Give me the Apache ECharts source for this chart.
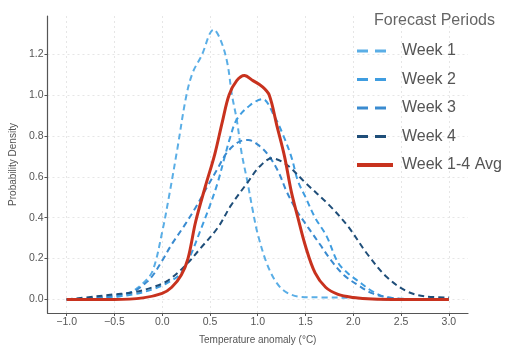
<!DOCTYPE html>
<html>
<head>
<meta charset="utf-8">
<script src="https://cdn.jsdelivr.net/npm/echarts@6/dist/echarts.min.js"></script>
<style>
  html, body { margin: 0; padding: 0; background: #fff; }
  #chart { width: 515px; height: 350px; }
</style>
</head>
<body>
<div id="chart"></div>
<script>
// Density curves for each forecast period: [temperature anomaly, density]
const week1 = [[-1.0,0],[-0.7,0.003],[-0.5,0.01],[-0.35,0.03],[-0.2,0.08],[-0.1,0.14],[0.0,0.33],[0.07,0.5],[0.16,0.74],[0.25,0.99],[0.32,1.11],[0.41,1.19],[0.54,1.32],[0.61,1.27],[0.68,1.16],[0.73,1.0],[0.78,0.88],[0.83,0.72],[0.89,0.58],[0.95,0.43],[1.0,0.32],[1.1,0.17],[1.2,0.08],[1.3,0.035],[1.45,0.013],[1.7,0.01],[2.0,0.008],[2.2,0.002],[2.5,0],[3.0,0]];
const week2 = [[-1.0,0],[-0.7,0.005],[-0.5,0.015],[-0.3,0.025],[-0.1,0.05],[0.05,0.08],[0.2,0.13],[0.3,0.22],[0.41,0.35],[0.5,0.46],[0.58,0.57],[0.65,0.69],[0.71,0.79],[0.78,0.88],[0.92,0.95],[1.05,0.98],[1.17,0.9],[1.26,0.81],[1.35,0.7],[1.42,0.58],[1.5,0.5],[1.6,0.4],[1.72,0.31],[1.84,0.18],[1.94,0.13],[2.05,0.09],[2.2,0.04],[2.35,0.01],[2.6,0.002],[3.0,0]];
const week3 = [[-1.0,0],[-0.7,0.008],[-0.5,0.02],[-0.3,0.04],[-0.2,0.07],[-0.11,0.11],[0.0,0.19],[0.1,0.27],[0.23,0.36],[0.35,0.45],[0.47,0.55],[0.58,0.64],[0.68,0.72],[0.8,0.77],[0.9,0.78],[1.02,0.75],[1.12,0.7],[1.22,0.62],[1.3,0.53],[1.4,0.44],[1.5,0.37],[1.56,0.33],[1.65,0.27],[1.77,0.19],[1.9,0.12],[2.05,0.07],[2.2,0.03],[2.4,0.008],[2.7,0.001],[3.0,0]];
const week4 = [[-1.0,0],[-0.7,0.015],[-0.5,0.025],[-0.3,0.035],[-0.1,0.06],[0.05,0.09],[0.23,0.16],[0.4,0.25],[0.58,0.35],[0.72,0.46],[0.89,0.57],[1.02,0.65],[1.15,0.69],[1.3,0.66],[1.5,0.57],[1.75,0.46],[1.94,0.36],[2.15,0.22],[2.35,0.11],[2.56,0.04],[2.76,0.015],[3.0,0.01]];
const weekAvg = [[-1.0,0],[-0.5,0],[-0.2,0.008],[0.0,0.03],[0.1,0.06],[0.2,0.12],[0.27,0.2],[0.35,0.38],[0.45,0.55],[0.55,0.71],[0.63,0.87],[0.7,1.0],[0.78,1.07],[0.86,1.095],[0.95,1.07],[1.05,1.04],[1.12,1.0],[1.2,0.85],[1.28,0.7],[1.35,0.53],[1.42,0.4],[1.5,0.26],[1.6,0.13],[1.71,0.06],[1.84,0.025],[2.0,0.01],[2.2,0.002],[2.5,0],[3.0,0]];

const seriesNames = ['Week 1', 'Week 2', 'Week 3', 'Week 4', 'Week 1-4 Avg'];
const xTicks = [-1.0, -0.5, 0.0, 0.5, 1.0, 1.5, 2.0, 2.5, 3.0];
const yTicks = [0.0, 0.2, 0.4, 0.6, 0.8, 1.0, 1.2];

const colors = ['#5aaee6', '#3f9de0', '#3a8bd0', '#1f4e79', '#c8321e'];
const curves = [week1, week2, week3, week4, weekAvg];

const chart = echarts.init(document.getElementById('chart'));

const series = curves.map((d, i) => ({
  name: seriesNames[i],
  type: 'line',
  data: d,
  smooth: 0.35,
  symbol: 'none',
  clip: false,
  z: i === 4 ? 5 : 2,
  lineStyle: i === 4
    ? { color: colors[i], width: 3 }
    : { color: colors[i], width: 2, type: [6, 4] },
  itemStyle: { color: colors[i] }
}));

// legend keys: plain line samples (two long dashes for the weekly curves)
const legendData = seriesNames.map((n, i) => ({
  name: n,
  itemStyle: { opacity: 0 },
  lineStyle: i === 4
    ? { color: colors[i], width: 4, type: 'solid' }
    : { color: colors[i], width: 3, type: [11, 7] }
}));

const labelFont = 'Liberation Sans, Arial, sans-serif';

chart.setOption({
  animation: false,
  backgroundColor: '#fff',
  title: {
    text: 'Forecast Periods',
    left: 369,
    top: 8,
    textStyle: { fontFamily: labelFont, fontSize: 16, fontWeight: 'normal', color: '#666' }
  },
  legend: {
    orient: 'vertical',
    left: 350,
    top: 38,
    itemWidth: 36,
    itemHeight: 12,
    itemGap: 12.5,
    data: legendData,
    textStyle: { fontFamily: labelFont, fontSize: 16, color: '#555', padding: [0, 0, 0, 4] }
  },
  grid: { left: 44, right: 47, top: 16, bottom: 31 },
  xAxis: {
    type: 'value',
    min: -1.2,
    max: 3.2,
    name: 'Temperature anomaly (°C)',
    nameLocation: 'middle',
    nameGap: 22,
    nameTextStyle: { fontFamily: labelFont, fontSize: 10, color: '#555' },
    axisLine: { onZero: false, lineStyle: { color: '#555', width: 1.2 } },
    axisTick: { show: true, customValues: xTicks, length: 3, lineStyle: { color: '#555' } },
    axisLabel: {
      customValues: xTicks,
      fontFamily: labelFont, fontSize: 10.5, color: '#555', margin: 4,
      formatter: v => v.toFixed(1).replace('-', '\u2212')
    },
    splitLine: { show: true, lineStyle: { color: '#e6e6e6', type: [2, 3] } }
  },
  yAxis: {
    type: 'value',
    min: -0.066,
    max: 1.386,
    name: 'Probability Density',
    nameLocation: 'middle',
    nameGap: 25,
    nameTextStyle: { fontFamily: labelFont, fontSize: 10, color: '#555' },
    axisLine: { show: true, onZero: false, lineStyle: { color: '#555', width: 1.2 } },
    axisTick: { show: true, customValues: yTicks, length: 3, lineStyle: { color: '#555' } },
    axisLabel: {
      customValues: yTicks,
      fontFamily: labelFont, fontSize: 10.5, color: '#555', margin: 4,
      formatter: v => v.toFixed(1)
    },
    splitLine: { show: true, lineStyle: { color: '#e6e6e6', type: [2, 3] } }
  },
  series: series
});
</script>
</body>
</html>
